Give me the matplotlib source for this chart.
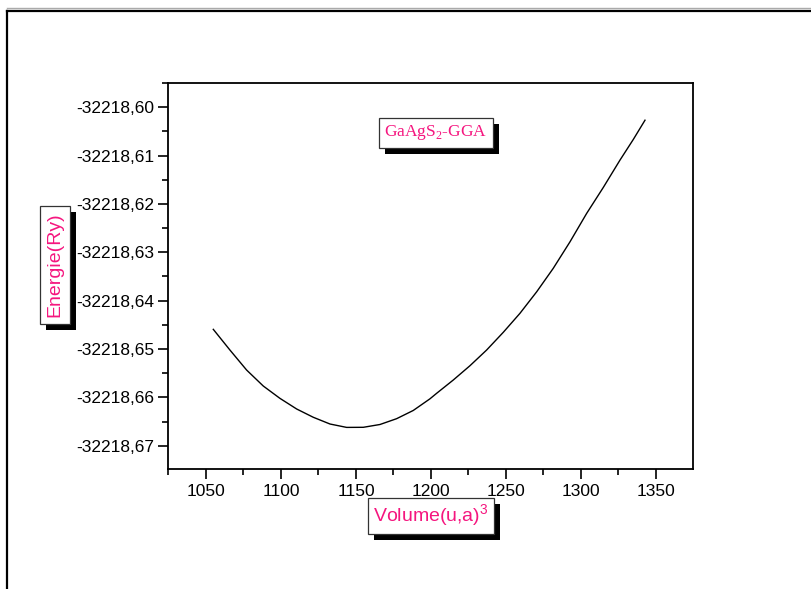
import numpy as np
import matplotlib.pyplot as plt
from matplotlib.lines import Line2D
from matplotlib.patches import Rectangle
from matplotlib.ticker import FuncFormatter, AutoMinorLocator, FixedLocator
import matplotlib.transforms as mtransforms

# Energie en fonction du volume, GaAgS2 (GGA)
volume = [1054.9, 1066.0, 1077.1, 1088.2, 1099.3, 1110.5, 1121.5, 1132.7, 1143.8,
          1154.9, 1166.0, 1177.1, 1188.2, 1199.3, 1203.8, 1214.9, 1226.0, 1237.1,
          1248.2, 1259.3, 1270.5, 1281.5, 1292.7, 1303.8, 1314.9, 1326.0, 1334.9, 1342.7]
energie = [-32218.64593, -32218.65021, -32218.65434, -32218.65764, -32218.66019,
           -32218.66240, -32218.66410, -32218.66550, -32218.66620, -32218.66618,
           -32218.66560, -32218.66440, -32218.66270, -32218.66030, -32218.65915,
           -32218.65640, -32218.65345, -32218.65021, -32218.64655, -32218.64263,
           -32218.63816, -32218.63333, -32218.62783, -32218.62196, -32218.61659,
           -32218.61095, -32218.60667, -32218.60269]

x_ticks = [1050, 1100, 1150, 1200, 1250, 1300, 1350]
y_ticks = [-32218.60, -32218.61, -32218.62, -32218.63, -32218.64, -32218.65, -32218.66, -32218.67]

ROSE = '#f5167f'
W, H = 812, 589

fig = plt.figure(figsize=(W / 100, H / 100), dpi=100)
ax = fig.add_axes([168 / W, 1 - 469 / H, (693 - 168) / W, (469 - 83) / H])

ax.plot(volume, energie, color='black', lw=1.0)
ax.set_xlim(1024.7, 1374.7)
ax.set_ylim(-32218.6748, -32218.5950)

ax.xaxis.set_major_locator(FixedLocator(x_ticks))
ax.yaxis.set_major_locator(FixedLocator(y_ticks))
ax.xaxis.set_minor_locator(AutoMinorLocator(2))
ax.yaxis.set_minor_locator(AutoMinorLocator(2))
ax.yaxis.set_major_formatter(FuncFormatter(lambda v, p: f'{v:.2f}'.replace('.', ',')))

ax.tick_params(which='both', direction='out', top=False, right=False, width=1.2,
               labelsize=12.5, colors='black')
ax.tick_params(which='major', length=7)
ax.tick_params(which='minor', length=4)
ax.tick_params(axis='y', pad=3)
ax.tick_params(axis='x', pad=4)
for lab in ax.get_xticklabels() + ax.get_yticklabels():
    lab.set_family('Liberation Sans')
for s in ax.spines.values():
    s.set_linewidth(1.3)

boites = []


def boite(x, y, texte, family, size, pad, rotation=0):
    t = fig.text(x / W, 1 - y / H, texte, family=family, fontsize=size, color=ROSE,
                 rotation=rotation, ha='center', va='center', zorder=5,
                 bbox=dict(boxstyle='square,pad=%s' % pad, fc='white', ec='#333333', lw=0.9))
    boites.append(t)


boite(55, 265, 'Energie(Ry)', 'Liberation Sans', 14, 0.35, rotation=90)
boite(431, 516, r'Volume(u,a)$^\mathregular{3}$', 'Liberation Sans', 14, 0.25)
boite(436, 133, r'GaAgS$_\mathregular{2}$-GGA', 'Liberation Serif', 12.5, 0.3)

# ombres noires sous les boites
fig.canvas.draw()
rend = fig.canvas.get_renderer()
for t in boites:
    bb = t.get_bbox_patch().get_window_extent(rend)
    fig.add_artist(Rectangle((bb.x0 + 6, bb.y0 - 6), bb.width, bb.height,
                             transform=mtransforms.IdentityTransform(),
                             fc='black', ec='none', zorder=4))

# cadre de la page
fig.add_artist(Line2D([6.5 / W, 1], [1 - 8 / H, 1 - 8 / H], transform=fig.transFigure,
                      color='#aaaaaa', lw=1.0))
fig.add_artist(Line2D([6.5 / W, 1], [1 - 10.5 / H, 1 - 10.5 / H], transform=fig.transFigure,
                      color='black', lw=1.6))
fig.add_artist(Line2D([6.5 / W, 6.5 / W], [1 - 10.5 / H, 0], transform=fig.transFigure,
                      color='black', lw=1.6))

fig.savefig('out.png', dpi=100)
